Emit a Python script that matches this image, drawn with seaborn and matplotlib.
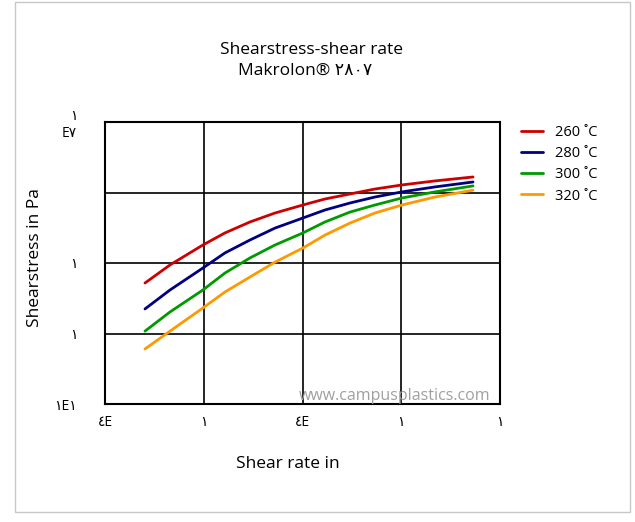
import matplotlib
matplotlib.use("Agg")
import matplotlib.pyplot as plt
import seaborn as sns
import pandas as pd
from matplotlib.patches import Rectangle
from matplotlib.lines import Line2D

# ---- data ----
shear_rate = [2.54, 4.55, 9.8, 16.4, 29.4, 52.7, 101, 169, 303, 542, 1018, 2197, 5330]
stress_260 = [52000, 93800, 180000, 267000, 382000, 512000, 665000, 809000, 953000,
              1.12e6, 1.28e6, 1.46e6, 1.66e6]
stress_280 = [22300, 41400, 84900, 139000, 212000, 313000, 435000, 565000, 710000,
              863000, 1.02e6, 1.20e6, 1.41e6]
stress_300 = [10800, 20200, 41400, 72100, 118000, 180000, 267000, 382000, 528000,
              665000, 836000, 1.02e6, 1.24e6]
stress_320 = [6030, 10800, 23000, 38800, 63300, 103000, 163000, 249000, 369000,
              512000, 665000, 863000, 1.08e6]
series_labels = ["260 ˚C", "280 ˚C", "300 ˚C", "320 ˚C"]
colors = ["#cc0000", "#000080", "#009900", "#ff9900"]

x_ticks = [1, 10, 100, 1000, 10000]
x_ticklabels = ["٤E", "١", "٤E", "١", "١"]
y_ticks = [1e3, 1e4, 1e5, 1e6, 1e7]
y_ticklabels = ["١E١", "١", "١", "", "١\nE٧"]

title_lines = ["Shearstress-shear rate", "Makrolon® ٢٨٠٧"]
x_label = "Shear rate in"
y_label = "Shearstress in Pa"
watermark = "www.campusplastics.com"

# ---- build table ----
frames = []
for lab, vals in zip(series_labels, [stress_260, stress_280, stress_300, stress_320]):
    frames.append(pd.DataFrame({"rate": shear_rate, "stress": vals, "T": lab}))
df = pd.concat(frames, ignore_index=True)

sns.set_style("white")
plt.rcParams["font.family"] = ["Open Sans", "DejaVu Sans"]
plt.rcParams["text.color"] = "black"

fig = plt.figure(figsize=(6.35, 5.22), dpi=100)
W, H = 635, 522
ax = fig.add_axes([105 / W, 1 - 404 / H, (500 - 105) / W, (404 - 122) / H])

sns.lineplot(data=df, x="rate", y="stress", hue="T", palette=colors,
             hue_order=series_labels, linewidth=2, ax=ax, legend=False, sort=False)
ax.set_xscale("log")
ax.set_yscale("log")
ax.set_xlim(1, 10000)
ax.set_ylim(1e3, 1e7)
ax.set_xticks(x_ticks)
ax.set_yticks(y_ticks)
ax.minorticks_off()
ax.set_xticklabels(x_ticklabels, fontsize=10, color="black")
ax.set_yticklabels(y_ticklabels, fontsize=10, color="black")
ax.tick_params(axis="y", length=0, pad=20)
ax.tick_params(axis="x", length=0, pad=8)
ax.grid(True, color="black", linewidth=1.2)
for s in ax.spines.values():
    s.set_color("black")
    s.set_linewidth(1.5)
ax.set_xlabel("")
ax.set_ylabel("")

fig.text(490 / W, 1 - 396 / H, watermark, ha="right", va="center",
         color="#a0a0a0", fontsize=11.5)

# titles / labels
fig.text(312 / W, 1 - 50 / H, title_lines[0], ha="center", va="center", fontsize=12.5)
fig.text(305 / W, 1 - 71 / H, title_lines[1], ha="center", va="center", fontsize=12.5)
fig.text(288 / W, 1 - 464 / H, x_label, ha="center", va="center", fontsize=12.5)
fig.text(35 / W, 1 - 258 / H, y_label, ha="center", va="center", rotation=90, fontsize=12.5)

# legend
handles = [Line2D([0], [0], color=c, lw=2) for c in colors]
fig.legend(handles, series_labels, loc="upper left", bbox_to_anchor=(508 / W, 1 - 112 / H),
           frameon=False, fontsize=10.5, handlelength=1.5, labelspacing=0.42,
           handletextpad=0.8)

# figure border
fig.patches.append(Rectangle((15 / W, 10 / H), (630 - 15) / W, 1 - 12 / H,
                             transform=fig.transFigure, fill=False,
                             edgecolor="#c8c8c8", linewidth=1))

fig.savefig("out.png", dpi=100)
